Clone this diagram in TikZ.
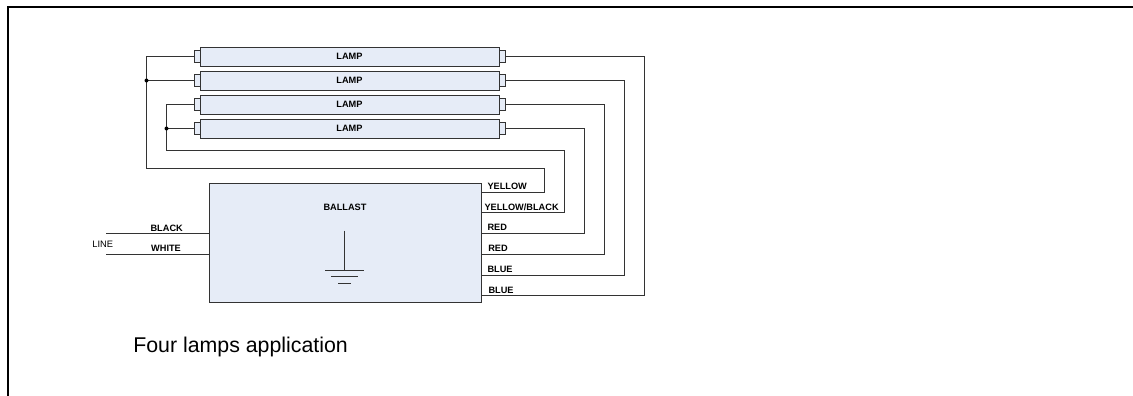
\documentclass[tikz,border=0pt]{standalone}
\usepackage{fontspec}
\setmainfont{Liberation Sans}
\usetikzlibrary{positioning}

\definecolor{lampfill}{HTML}{E6ECF7}
\definecolor{wirecol}{HTML}{333333}

\tikzset{
	lamp/.style={draw=wirecol, fill=lampfill, line width=0.7pt, outer sep=0pt, minimum width=224.25pt, minimum height=14.25pt, inner sep=0pt, font=\fontsize{6.9}{8}\selectfont\bfseries},
	pin/.style={draw=wirecol, fill=lampfill, line width=0.7pt, outer sep=0pt, minimum width=4.5pt, minimum height=9pt, inner sep=0pt},
	wire/.style={draw=wirecol, line width=0.7pt},
	lbl/.style={inner sep=0pt, font=\fontsize{6.9}{8}\selectfont\bfseries},
	dot/.style={circle, fill=black, inner sep=0pt, minimum size=3pt}
}

\begin{document}
\begin{tikzpicture}[x=0.75pt, y=-0.75pt]
		\useasboundingbox (0,0) rectangle (1133,396);
		
		% frame
		\coordinate (frameb) at (8,396);
		\coordinate (framec) at (8,7);
		\coordinate (framer) at (1133,7);
		\draw[line width=1.5pt, line cap=rect] (frameb) -- (framec) -- (framer);
		
		% lamps
		\node[lamp] (lamp1) at (349.5,56.5) {LAMP};
		\node[lamp] (lamp2) at (349.5,80.5) {LAMP};
		\node[lamp] (lamp3) at (349.5,104.5) {LAMP};
		\node[lamp] (lamp4) at (349.5,128.5) {LAMP};
		
		% pins
		\foreach \n in {1,2,3,4} {
			\node[pin, left = 0pt of lamp\n] (pinl\n) {};
			\node[pin, right = 0pt of lamp\n] (pinr\n) {};
		}
		
		% ballast
		\node[draw=wirecol, fill=lampfill, line width=0.7pt, outer sep=0pt, minimum width=203.6pt, minimum height=89.25pt, inner sep=0pt] (ballast) at (345.25,242.5) {};
		\node[lbl] (ballastlbl) at (345,207.2) {BALLAST};
		
		% ground
		\coordinate (gndtop) at (344.3,230.7);
		\coordinate (gndbot) at (344.3,270);
		\coordinate (gnda1) at (325,270);
		\coordinate (gnda2) at (364,270);
		\coordinate (gndb1) at (331,276.7);
		\coordinate (gndb2) at (358,276.7);
		\coordinate (gndc1) at (338,283);
		\coordinate (gndc2) at (351,283);
		\draw[wire] (gndtop) -- (gndbot);
		\draw[wire] (gnda1) -- (gnda2);
		\draw[wire] (gndb1) -- (gndb2);
		\draw[wire] (gndc1) -- (gndc2);
		
		% line side
		\coordinate (blackend) at (106,233.3);
		\coordinate (whiteend) at (106,254);
		\draw[wire] (blackend) -- (blackend -| ballast.west);
		\draw[wire] (whiteend) -- (whiteend -| ballast.west);
		\node[lbl] (black) at (166.7,228.6) {BLACK};
		\node[lbl] (white) at (166,248.2) {WHITE};
		\node[inner sep=0pt, font=\fontsize{7}{8}\selectfont] (line) at (102.7,244) {LINE};
		
		% ballast outputs
		\coordinate (yel) at (481,192);
		\coordinate (yelblk) at (481,212);
		\coordinate (red1) at (481,233.3);
		\coordinate (red2) at (481,254.3);
		\coordinate (blu1) at (481,275.7);
		\coordinate (blu2) at (481,295.7);
		\node[lbl, anchor=west] (yellbl) at (487.3,186.2) {YELLOW};
		\node[lbl, anchor=west] (yelblklbl) at (484.3,207) {YELLOW/BLACK};
		\node[lbl, anchor=west] (red1lbl) at (487.3,227) {RED};
		\node[lbl, anchor=west] (red2lbl) at (488,248) {RED};
		\node[lbl, anchor=west] (blu1lbl) at (487.3,269) {BLUE};
		\node[lbl, anchor=west] (blu2lbl) at (488.3,290) {BLUE};
		
		% left wires
		\coordinate (busa) at (146.5,80.5);
		\coordinate (busb) at (166.5,128.5);
		\draw[wire] (pinl1.west) -| (146.5,168.5) -| (544,192) -- (yel);
		\draw[wire] (pinl2.west) -- (busa);
		\draw[wire] (pinl3.west) -| (166.5,150.5) -| (564,212) -- (yelblk);
		\draw[wire] (pinl4.west) -- (busb);
		\node[dot] (dota) at (busa) {};
		\node[dot] (dotb) at (busb) {};
		
		% right wires
		\draw[wire] (pinr1.east) -| (644,295.7) -- (blu2);
		\draw[wire] (pinr2.east) -| (624,275.7) -- (blu1);
		\draw[wire] (pinr3.east) -| (604,254.3) -- (red2);
		\draw[wire] (pinr4.east) -| (584.7,233.3) -- (red1);
		
		% caption
		\node[inner sep=0pt, anchor=west, font=\fontsize{16}{18}\selectfont] (caption) at (133,346.5) {Four lamps application};
\end{tikzpicture}
\end{document}
